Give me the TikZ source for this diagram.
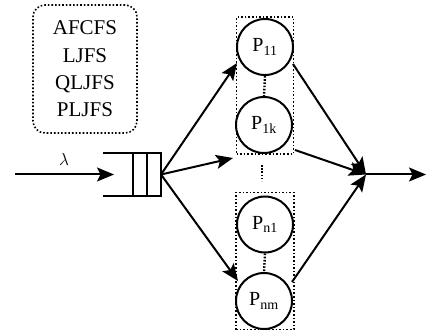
\documentclass[tikz,border=0pt]{standalone}
\usepackage{fontspec}
\setmainfont{Liberation Serif}
\usetikzlibrary{arrows.meta}
\begin{document}
\begin{tikzpicture}[x=1pt,y=-1pt,
  line/.style={line width=2pt},
  arr/.style={line width=2pt,-{Stealth[length=17pt,width=14pt,inset=3.5pt]}},
  dotbox/.style={draw,line width=1.6pt,dotted},
  proc/.style={circle,draw,line width=2pt,minimum size=56pt,inner sep=0pt,font=\fontsize{20}{22}\selectfont},
  vdots/.style={line width=2.4pt,dash pattern=on 1.6pt off 1.6pt}]
\useasboundingbox (0,0) rectangle (426,334);
% policy box
\node[dotbox,rounded corners=12pt,minimum width=104pt,minimum height=128pt,align=center,
  font=\fontsize{21}{27.3}\selectfont] (pol) at (85,69) {AFCFS\\LJFS\\QLJFS\\PLJFS};
% queue
\coordinate (qtl) at (103,153);
\coordinate (qbl) at (103,196);
\coordinate (qr) at (161,174.5);
\draw[line] (qtl) -- (161,153) -- (161,196) -- (qbl);
\draw[line] (133,153) -- (133,196);
\draw[line] (147,153) -- (147,196);
% input
\coordinate (in) at (15,174.5);
\coordinate (inend) at (114,174.5);
\draw[arr] (in) -- (inend);
\node[font=\fontsize{19}{22}\selectfont] (lam) at (64,160) {$\lambda$};
% processor groups
\node[dotbox,minimum width=57pt,minimum height=137pt,inner sep=0pt] (g1) at (265,85.5) {};
\node[dotbox,minimum width=58pt,minimum height=137pt,inner sep=0pt] (g2) at (265,261) {};
\node[proc] (p11) at (265,47) {P\textsubscript{11}};
\node[proc] (p1k) at (264,125) {P\textsubscript{1k}};
\node[proc] (pn1) at (265,224.5) {P\textsubscript{n1}};
\node[proc] (pnm) at (264,301) {P\textsubscript{nm}};
\draw[vdots] (p11.south) -- (p1k.north);
\draw[vdots] (pn1.south) -- (pnm.north);
\coordinate (md1) at (262,165);
\coordinate (md2) at (262,181);
\draw[vdots] (md1) -- (md2);
% merge
\coordinate (m) at (366,174.5);
\coordinate (out) at (426,174.5);
\coordinate (t1) at (237,63);
\coordinate (t2) at (233,158);
\coordinate (t3) at (238,281);
\draw[arr] (qr) -- (t1);
\draw[arr] (qr) -- (t2);
\draw[arr] (qr) -- (t3);
\coordinate (s1) at (293,64);
\coordinate (s2) at (295,150);
\coordinate (s3) at (292,282);
\draw[arr] (s1) -- (m);
\draw[arr] (s2) -- (m);
\draw[arr] (s3) -- (m);
\draw[arr] (m) -- (out);
\end{tikzpicture}
\end{document}
